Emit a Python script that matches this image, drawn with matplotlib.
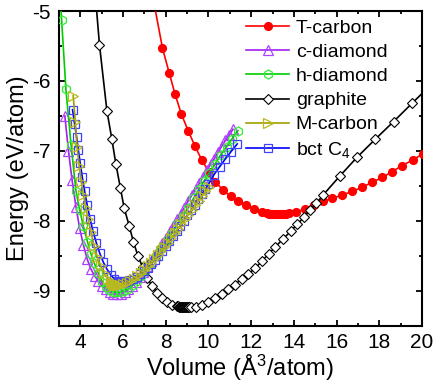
import matplotlib
matplotlib.use("Agg")
import matplotlib.pyplot as plt
from matplotlib.ticker import MultipleLocator

plt.rcParams['font.family'] = ['Liberation Sans', 'DejaVu Sans']
plt.rcParams['mathtext.fontset'] = 'custom'
plt.rcParams['mathtext.rm'] = 'Liberation Sans'
plt.rcParams['mathtext.it'] = 'Liberation Sans:italic'
plt.rcParams['axes.unicode_minus'] = False

# ---------------- data ----------------
tc_v = [7.35, 7.85, 8.16, 8.44, 8.73, 9.05, 9.37, 9.69, 10.02, 10.33, 10.68, 11.04, 11.40, 11.78,
        12.15, 12.50, 12.75, 12.85, 12.95, 13.05, 13.15, 13.25, 13.35, 13.45, 13.55, 13.65, 13.75,
        14.08, 14.51, 14.93, 15.36, 15.79, 16.26, 16.73, 17.19, 17.66, 18.13, 18.59, 19.06, 19.57, 20.04]
tc_e = [-4.72, -5.53, -5.88, -6.19, -6.47, -6.71, -6.93, -7.13, -7.30, -7.44, -7.56, -7.65, -7.72, -7.78,
        -7.83, -7.87, -7.89, -7.895, -7.90, -7.90, -7.905, -7.905, -7.905, -7.90, -7.90, -7.895, -7.89,
        -7.88, -7.83, -7.77, -7.72, -7.68, -7.63, -7.58, -7.52, -7.45, -7.38, -7.30, -7.21, -7.13, -7.04]

cd_v = [3.28, 3.45, 3.62, 3.80, 3.97, 4.15, 4.33, 4.50, 4.68, 4.85, 5.03, 5.20, 5.38, 5.55, 5.73,
        5.90, 6.08, 6.25, 6.43, 6.60, 6.78, 6.95, 7.13, 7.30, 7.48, 7.65, 7.83, 8.00, 8.18, 8.35, 8.53,
        8.70, 8.88, 9.05, 9.23, 9.40, 9.58, 9.75, 9.93, 10.10, 10.28, 10.45, 10.63, 10.80, 10.98, 11.15]
cd_e = [-6.50, -7.00, -7.42, -7.80, -8.10, -8.35, -8.55, -8.69, -8.79, -8.86, -8.93, -8.98, -9.02,
        -9.04, -9.05, -9.04, -9.02, -8.98, -8.93, -8.87, -8.80, -8.73, -8.65, -8.57, -8.49, -8.41, -8.32,
        -8.24, -8.15, -8.07, -7.98, -7.90, -7.81, -7.72, -7.63, -7.55, -7.46, -7.37, -7.28, -7.19, -7.11,
        -7.02, -6.93, -6.85, -6.77, -6.69]

hd_v = [3.00, 3.13, 3.33, 3.57, 3.80, 3.98, 4.15, 4.34, 4.50, 4.65, 4.85, 5.04, 5.20, 5.36, 5.52, 5.67,
        5.86, 6.06, 6.25, 6.45, 6.65, 6.85, 7.05, 7.30, 7.55, 7.80, 8.05, 8.30, 8.55, 8.80, 9.05, 9.30,
        9.55, 9.79, 10.05, 10.30, 10.57, 10.85, 11.10, 11.38]
hd_e = [-4.50, -5.13, -6.12, -6.91, -7.57, -7.85, -8.08, -8.30, -8.47, -8.60, -8.75, -8.87, -8.94, -8.99,
        -9.01, -9.02, -9.02, -9.00, -8.97, -8.92, -8.86, -8.79, -8.71, -8.61, -8.50, -8.39, -8.28, -8.17,
        -8.05, -7.93, -7.81, -7.68, -7.55, -7.43, -7.31, -7.19, -7.06, -6.94, -6.83, -6.71]

gr_v = [4.62, 4.90, 5.25, 5.48, 5.67, 5.88, 6.06, 6.30, 6.49, 6.70, 6.92, 7.14, 7.35, 7.61, 7.85, 8.08,
        8.31, 8.55, 8.59, 8.63, 8.67, 8.71, 8.75, 8.79, 8.83, 8.87, 8.91, 8.95, 8.99, 9.03, 9.07, 9.11,
        9.17, 9.41, 9.69, 10.00, 10.31, 10.62, 10.93, 11.24, 11.56, 11.86, 12.18, 12.49, 12.83, 13.14,
        13.49, 13.85, 14.15, 14.47, 14.75, 15.05, 15.37, 16.15, 16.96, 17.82, 18.67, 19.53, 20.40]
gr_e = [-4.45, -5.48, -6.43, -6.83, -7.19, -7.53, -7.82, -8.08, -8.30, -8.50, -8.66, -8.81, -8.93, -9.03,
        -9.10, -9.16, -9.20, -9.22, -9.222, -9.225, -9.228, -9.23, -9.232, -9.234, -9.235, -9.235, -9.235,
        -9.235, -9.235, -9.234, -9.233, -9.232, -9.23, -9.23, -9.20, -9.16, -9.10, -9.05, -8.98, -8.91,
        -8.83, -8.76, -8.68, -8.58, -8.47, -8.37, -8.26, -8.15, -8.05, -7.95, -7.85, -7.75, -7.63, -7.36,
        -7.09, -6.83, -6.58, -6.32, -6.06]

mc_v = [3.67, 3.77, 3.85, 3.95, 4.05, 4.15, 4.26, 4.37, 4.50, 4.65, 4.80, 4.96, 5.12, 5.28, 5.44, 5.50,
        5.525, 5.55, 5.575, 5.60, 5.625, 5.65, 5.675, 5.70, 5.725, 5.75, 5.775, 5.80, 5.86, 6.02, 6.18,
        6.35, 6.52, 6.68, 6.84, 7.00, 7.15, 7.30, 7.46, 7.62, 7.78, 7.94, 8.10, 8.26, 8.42, 8.58, 8.74,
        8.90, 9.06, 9.22, 9.38, 9.54, 9.70, 9.86, 10.03]
mc_e = [-6.21, -6.58, -6.94, -7.22, -7.45, -7.63, -7.82, -7.98, -8.16, -8.36, -8.52, -8.65, -8.75, -8.83,
        -8.88, -8.895, -8.90, -8.905, -8.91, -8.912, -8.915, -8.917, -8.918, -8.92, -8.92, -8.92, -8.92,
        -8.918, -8.915, -8.905, -8.885, -8.86, -8.83, -8.79, -8.745, -8.70, -8.65, -8.60, -8.55, -8.49,
        -8.43, -8.37, -8.31, -8.245, -8.18, -8.11, -8.045, -7.98, -7.91, -7.845, -7.78, -7.71, -7.645,
        -7.58, -7.51]

bc_v = [3.64, 3.74, 3.83, 3.91, 4.00, 4.10, 4.21, 4.33, 4.46, 4.60, 4.75, 4.91, 5.08, 5.25, 5.42, 5.60,
        5.75, 5.80, 5.83, 5.86, 5.89, 5.92, 5.95, 5.98, 6.01, 6.04, 6.07, 6.10, 6.15, 6.30, 6.47, 6.64,
        6.81, 6.98, 7.15, 7.32, 7.49, 7.66, 7.83, 8.00, 8.17, 8.34, 8.51, 8.68, 8.85, 9.02, 9.19, 9.36,
        9.53, 9.70, 9.85, 10.00, 10.26, 10.52, 10.78, 11.06, 11.35]
bc_e = [-6.41, -6.62, -6.80, -6.98, -7.18, -7.38, -7.58, -7.78, -7.97, -8.15, -8.31, -8.46, -8.59, -8.69,
        -8.77, -8.83, -8.86, -8.865, -8.868, -8.87, -8.872, -8.874, -8.875, -8.875, -8.874, -8.872,
        -8.87, -8.868, -8.865, -8.85, -8.83, -8.80, -8.76, -8.72, -8.67, -8.62, -8.56, -8.50, -8.43,
        -8.36, -8.29, -8.22, -8.15, -8.07, -8.00, -7.92, -7.85, -7.77, -7.69, -7.615, -7.55, -7.48,
        -7.34, -7.23, -7.12, -7.01, -6.90]

labels = ['T-carbon', 'c-diamond', 'h-diamond', 'graphite', 'M-carbon', 'bct C$_4$']
x_ticks = [4, 6, 8, 10, 12, 14, 16, 18, 20]
y_ticks = [-9, -8, -7, -6, -5]

# ---------------- figure ----------------
fig = plt.figure(figsize=(4.36, 3.86), dpi=100)
ax = fig.add_axes([0.135, 0.156, 0.833, 0.8155])

lw = 1.2
ax.plot(tc_v, tc_e, color='#FF0000', lw=lw, marker='o', ms=5.6, mfc='#FF0000', mec='#FF0000',
        label=labels[0], zorder=3)
ax.plot(cd_v, cd_e, color='#A020F0', lw=lw, marker='^', ms=6.5, mfc='none', mec='#B040FF', mew=0.9,
        label=labels[1], zorder=4)
ax.plot(hd_v, hd_e, color='#00CC00', lw=lw, marker='h', ms=6.5, mfc='none', mec='#33EE33', mew=0.9,
        label=labels[2], zorder=5)
ax.plot(gr_v, gr_e, color='black', lw=lw, marker='D', ms=5.0, mfc='white', mec='black', mew=0.8,
        label=labels[3], zorder=3)
ax.plot(mc_v, mc_e, color='#A0A000', lw=lw, marker='>', ms=6.5, mfc='none', mec='#B8B820', mew=0.9,
        label=labels[4], zorder=6)
ax.plot(bc_v, bc_e, color='#0000FF', lw=lw, marker='s', ms=5.5, mfc='none', mec='#4040FF', mew=0.9,
        label=labels[5], zorder=5)

ax.set_xlim(3, 20)
ax.set_ylim(-9.5, -5)
ax.set_xticks(x_ticks)
ax.set_yticks(y_ticks)
ax.xaxis.set_minor_locator(MultipleLocator(1))
ax.yaxis.set_minor_locator(MultipleLocator(0.5))
ax.tick_params(which='both', direction='in', top=True, right=True, width=1.3, labelsize=15)
ax.tick_params(which='major', length=4.5)
ax.tick_params(which='minor', length=2.5)
ax.tick_params(axis='x', pad=5)
ax.tick_params(axis='y', pad=6)
for s in ax.spines.values():
    s.set_linewidth(1.5)

ax.set_xlabel('Volume (Å$^3$/atom)', fontsize=17, labelpad=1)
ax.set_ylabel('Energy (eV/atom)', fontsize=17, labelpad=2)

leg = ax.legend(loc='upper left', bbox_to_anchor=(0.505, 0.985), frameon=False, fontsize=14,
                handlelength=2.2, handletextpad=0.35, labelspacing=0.33, borderpad=0.2,
                borderaxespad=0, numpoints=1)

fig.savefig('out.png', dpi=100)
